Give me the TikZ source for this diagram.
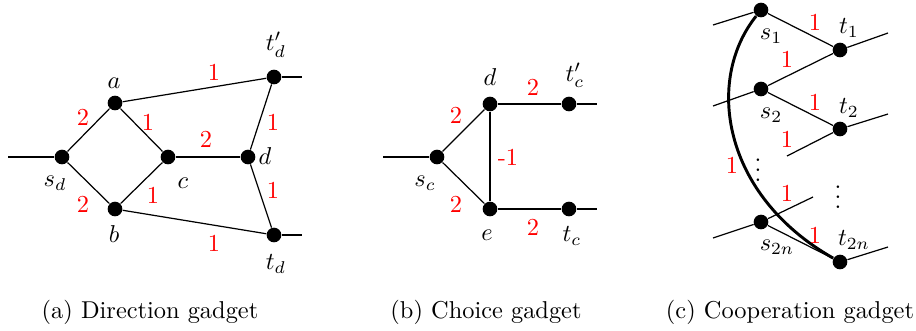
\documentclass[tikz,border=0pt]{standalone}
\usepackage{amsmath,amssymb}
\usepackage{xcolor}
\usepackage{tikz}
\usetikzlibrary{positioning, calc}

\begin{document}
\begin{tikzpicture}[
    x=0.41pt, y=-0.41pt,
    vertex/.style={circle, fill=black, minimum size=6pt, inner sep=0pt},
    weight/.style={text=red, inner sep=0pt},
    vlabel/.style={inner sep=0pt},
    light/.style={line width=0.5pt},
    heavy/.style={line width=1.2pt}
]
\useasboundingbox (0,0) rectangle (916,330);

% (a) direction gadget
\node[vertex] (sd) at (62, 157) {};
\node[vertex] (a) at (115, 103) {};
\node[vertex] (b) at (115, 209) {};
\node[vertex] (c) at (168, 157) {};
\node[vertex] (d) at (248, 157) {};
\node[vertex] (tdp) at (274, 77) {};
\node[vertex] (td) at (274, 235) {};
\coordinate (sdin) at (8, 157);
\coordinate (tdpout) at (302, 77);
\coordinate (tdout) at (302, 235);

\draw[heavy] (sdin) -- (sd);
\draw[light] (sd) -- (a);
\draw[light] (sd) -- (b);
\draw[light] (a) -- (c);
\draw[light] (b) -- (c);
\draw[heavy] (c) -- (d);
\draw[light] (a) -- (tdp);
\draw[light] (b) -- (td);
\draw[light] (d) -- (tdp);
\draw[light] (d) -- (td);
\draw[heavy] (tdp) -- (tdpout);
\draw[heavy] (td) -- (tdout);

\node[vlabel] at (55, 183) {$s_d$};
\node[vlabel] at (114, 83) {$a$};
\node[vlabel] at (114, 234) {$b$};
\node[vlabel] at (183, 183) {$c$};
\node[vlabel] at (265, 156) {$d$};
\node[vlabel] at (276, 45) {$t'_d$};
\node[vlabel] at (276, 264) {$t_d$};

\node[weight] at (83, 117) {2};
\node[weight] at (83, 204) {2};
\node[weight] at (148, 122) {1};
\node[weight] at (153, 195) {1};
\node[weight] at (206, 139) {2};
\node[weight] at (214, 72) {1};
\node[weight] at (273, 122) {1};
\node[weight] at (273, 190) {1};
\node[weight] at (214, 243) {1};

% (b) choice gadget
\node[vertex] (sc) at (437, 157) {};
\node[vertex] (dd) at (490, 104) {};
\node[vertex] (e) at (490, 209) {};
\node[vertex] (tcp) at (569, 104) {};
\node[vertex] (tc) at (569, 209) {};
\coordinate (scin) at (383, 157);
\coordinate (tcpout) at (597, 104);
\coordinate (tcout) at (597, 209);

\draw[heavy] (scin) -- (sc);
\draw[light] (sc) -- (dd);
\draw[light] (sc) -- (e);
\draw[heavy] (dd) -- (e);
\draw[heavy] (dd) -- (tcp);
\draw[heavy] (e) -- (tc);
\draw[heavy] (tcp) -- (tcpout);
\draw[heavy] (tc) -- (tcout);

\node[vlabel] at (425, 183) {$s_c$};
\node[vlabel] at (490, 77) {$d$};
\node[vlabel] at (487, 235) {$e$};
\node[vlabel] at (575, 75) {$t'_c$};
\node[vlabel] at (572, 236) {$t_c$};

\node[weight] at (456, 115) {2};
\node[weight] at (456, 204) {2};
\node[weight] at (508, 157) {-1};
\node[weight] at (533, 87) {2};
\node[weight] at (533, 227) {2};

% (c) cooperation gadget
\node[vertex] (s1) at (761, 10) {};
\node[vertex] (t1) at (840, 50) {};
\node[vertex] (s2) at (761, 89) {};
\node[vertex] (t2) at (840, 129) {};
\node[vertex] (s2n) at (761, 222) {};
\node[vertex] (t2n) at (840, 262) {};
\coordinate (s1in) at (713, 25);
\coordinate (s2in) at (713, 106);
\coordinate (s2nin) at (713, 238);
\coordinate (t1out) at (888, 33);
\coordinate (t2out) at (888, 114);
\coordinate (t2nout) at (888, 247);
\coordinate (t2in) at (787, 156);
\coordinate (s2nout) at (813, 197);

\draw[light] (s1in) -- (s1);
\draw[light] (s2in) -- (s2);
\draw[light] (s2nin) -- (s2n);
\draw[light] (t1) -- (t1out);
\draw[light] (t2) -- (t2out);
\draw[light] (t2n) -- (t2nout);
\draw[light] (s1) -- (t1);
\draw[light] (s2) -- (t1);
\draw[light] (s2) -- (t2);
\draw[light] (t2in) -- (t2);
\draw[light] (s2n) -- (s2nout);
\draw[light] (s2n) -- (t2n);
\draw[heavy] (s1) .. controls (705, 80) and (722, 195) .. (t2n);

\node[vlabel] at (771, 36) {$s_1$};
\node[vlabel] at (849, 28) {$t_1$};
\node[vlabel] at (771, 115) {$s_2$};
\node[vlabel] at (849, 108) {$t_2$};
\node[vlabel] at (777, 247) {$s_{2n}$};
\node[vlabel] at (854, 240) {$t_{2n}$};
\node[vlabel] (dots1) at (758, 163) {$\vdots$};
\node[vlabel] (dots2) at (838, 190) {$\vdots$};

\node[weight] at (815, 22) {1};
\node[weight] at (787, 59) {1};
\node[weight] at (815, 102) {1};
\node[weight] at (787, 139) {1};
\node[weight] at (732, 165) {1};
\node[weight] at (787, 193) {1};
\node[weight] at (815, 235) {1};

% captions
\node[vlabel] (capa) at (150, 312) {(a) Direction gadget};
\node[vlabel] (capb) at (486, 312) {(b) Choice gadget};
\node[vlabel] (capc) at (790, 312) {(c) Cooperation gadget};

\end{tikzpicture}
\end{document}
